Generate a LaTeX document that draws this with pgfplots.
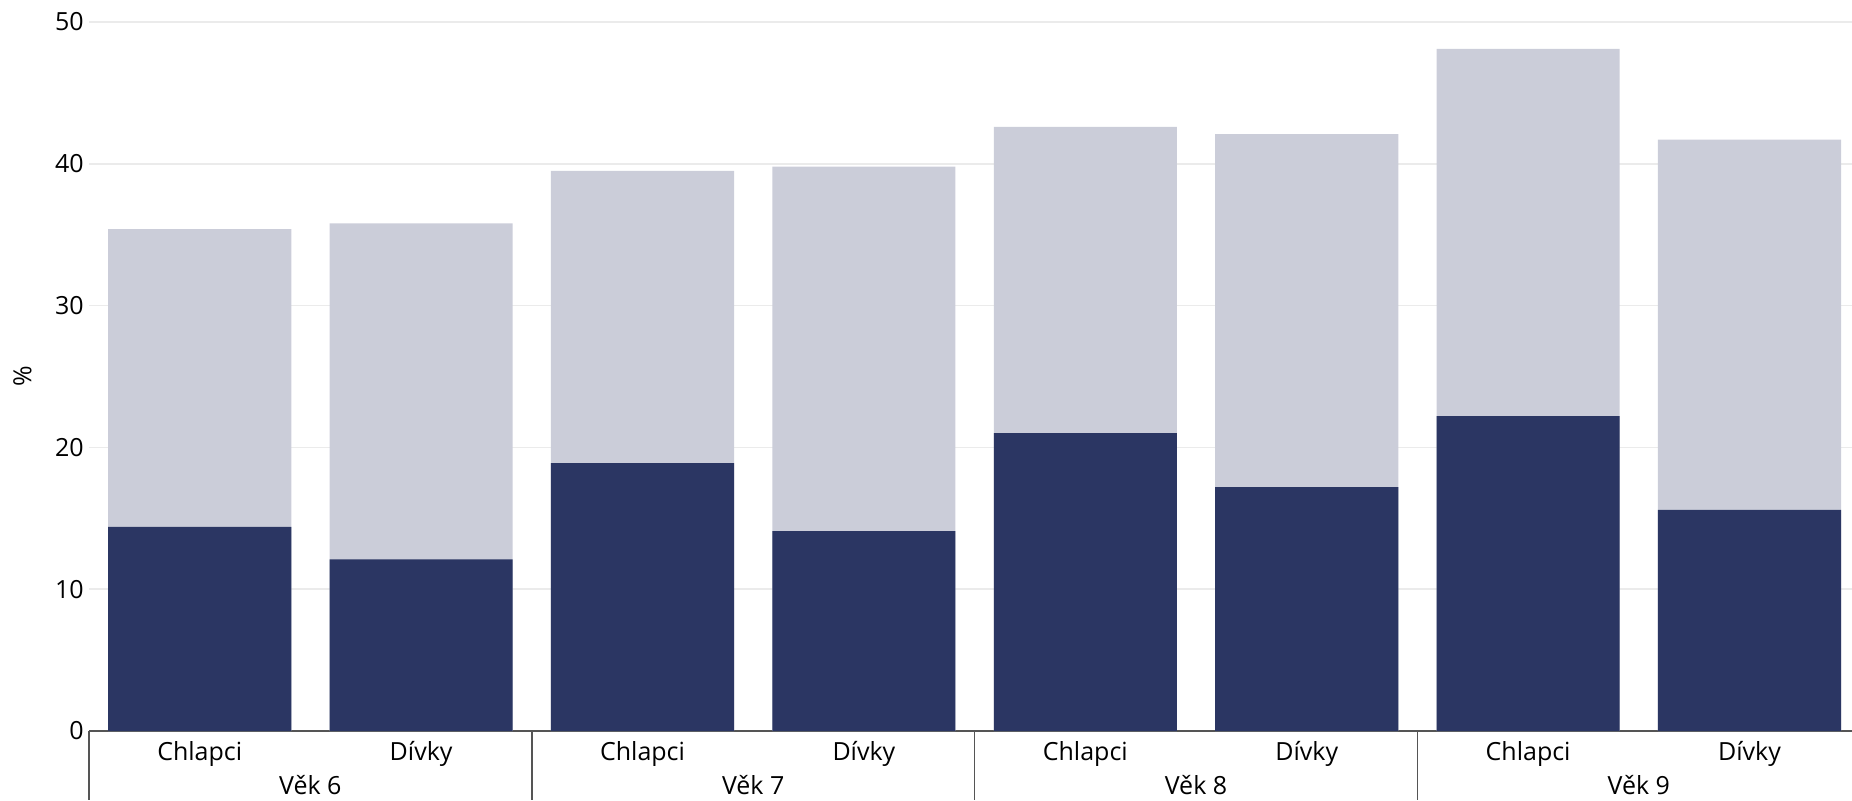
\documentclass[border=0pt]{standalone}
\usepackage{fontspec}
\setmainfont{Open Sans}
\usepackage{pgfplots}
\pgfplotsset{compat=1.18}
\definecolor{navy}{HTML}{2B3663}
\definecolor{lite}{HTML}{CBCDD9}
\definecolor{gridc}{HTML}{EBEBEB}
\definecolor{axl}{HTML}{555555}
\newcommand{\lblfont}{\fontsize{12.5}{14}\selectfont}
\begin{document}
\begin{tikzpicture}
\begin{axis}[
  scale only axis, width=881.5pt, height=354.5pt,
  xmin=-0.5, xmax=7.463, ymin=0, ymax=50,
  ytick={0,10,...,50}, xtick={0,...,7},
  xticklabels={Chlapci,Dívky,Chlapci,Dívky,Chlapci,Dívky,Chlapci,Dívky},
  major tick length=0pt,
  axis line style={draw=none},
  ymajorgrids, grid style={gridc, line width=0.8pt},
  /pgf/number format/assume math mode=true,
  tick label style={font=\lblfont, text=black},
  yticklabel style={anchor=east, inner sep=0pt, xshift=-2.5pt},
  xticklabel style={anchor=base, inner sep=0pt, yshift=-14.5pt},
  clip=false,
]
\draw[axl, line width=0.75pt] (rel axis cs:0,0) -- (rel axis cs:1,0);
\addplot[ybar, bar width=0.827, bar shift=0pt, fill=lite, draw=none]
  coordinates {(0,35.4) (1,35.8) (2,39.5) (3,39.8) (4,42.6) (5,42.1) (6,48.1) (7,41.7)};
\addplot[ybar, bar width=0.827, bar shift=0pt, fill=navy, draw=none]
  coordinates {(0,14.4) (1,12.1) (2,18.9) (3,14.1) (4,21.0) (5,17.2) (6,22.2) (7,15.6)};
\foreach \s in {-0.5,1.5,3.5,5.5} {
  \edef\tmp{\noexpand\draw[axl, line width=0.75pt] (axis cs:\s,0) -- ++(0pt,-34.5pt);}
  \tmp
}
\node[anchor=base, font=\lblfont] at (axis cs:0.5,0) [yshift=-31.5pt] {Věk 6};
\node[anchor=base, font=\lblfont] at (axis cs:2.5,0) [yshift=-31.5pt] {Věk 7};
\node[anchor=base, font=\lblfont] at (axis cs:4.5,0) [yshift=-31.5pt] {Věk 8};
\node[anchor=base, font=\lblfont] at (axis cs:6.5,0) [yshift=-31.5pt] {Věk 9};
\path (rel axis cs:0,0.5) ++(-33.25pt,0pt) node[rotate=90, font=\lblfont] {\%};
\coordinate (BL) at (rel axis cs:0,0);
\end{axis}
\pgfresetboundingbox
\useasboundingbox ([shift={(-44.5pt,-34.5pt)}]BL) rectangle ([shift={(881.5pt,365.5pt)}]BL);
\end{tikzpicture}
\end{document}
